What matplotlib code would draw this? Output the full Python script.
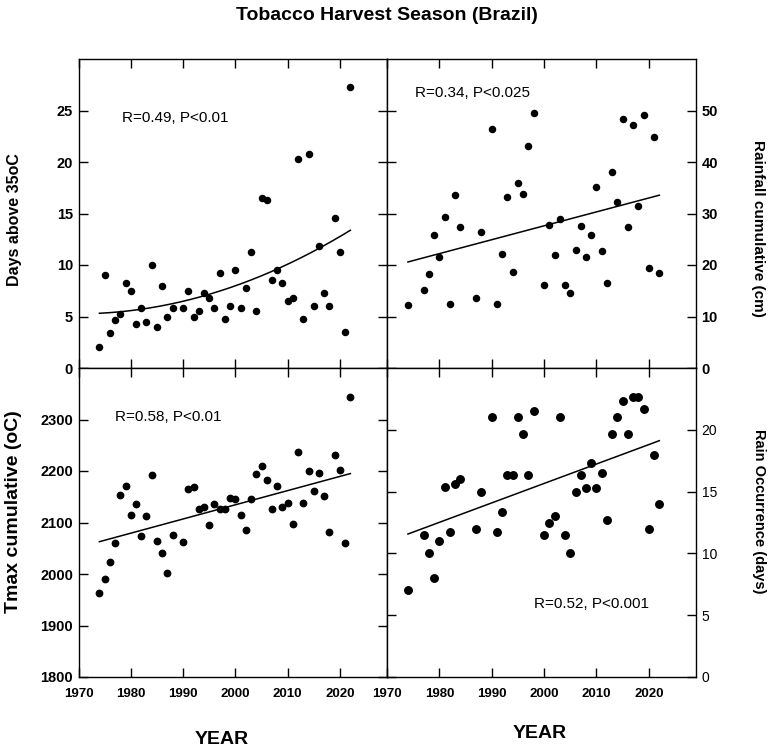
import numpy as np
import matplotlib
matplotlib.use('Agg')
import matplotlib.pyplot as plt
from matplotlib import font_manager

names = {f.name for f in font_manager.fontManager.ttflist}
NARROW = ['Liberation Sans Narrow', 'Liberation Sans'] if 'Liberation Sans Narrow' in names else ['Liberation Sans']
BASE = ['Liberation Sans', 'DejaVu Sans']
plt.rcParams['font.family'] = BASE

# ---------------- data ----------------
years_a = [1974, 1975, 1976, 1977, 1978, 1979, 1980, 1981, 1982, 1983, 1984, 1985,
           1986, 1987, 1988, 1990, 1991, 1992, 1993, 1994, 1995, 1996, 1997, 1998,
           1999, 2000, 2001, 2002, 2003, 2004, 2005, 2006, 2007, 2008, 2009, 2010,
           2011, 2012, 2013, 2014, 2015, 2016, 2017, 2018, 2019, 2020, 2021, 2022]
days_above_35 = [2.0, 9.0, 3.35, 4.7, 5.25, 8.25, 7.5, 4.25, 5.8, 4.5, 10.0, 4.0,
                 8.0, 5.0, 5.8, 5.8, 7.5, 5.0, 5.5, 7.25, 6.75, 5.8, 9.25, 4.75,
                 6.0, 9.5, 5.8, 7.75, 11.3, 5.5, 16.55, 16.3, 8.5, 9.5, 8.25, 6.5,
                 6.75, 20.3, 4.75, 20.8, 6.0, 11.8, 7.25, 6.0, 14.55, 11.3, 3.5, 27.3]
tmax_cum = [1963, 1990, 2022.6, 2060, 2154, 2171.6, 2114.8, 2136.8, 2074, 2113, 2193, 2064.5,
            2041, 2001, 2074.8, 2063, 2166, 2169.7, 2127, 2131, 2094.8, 2136, 2126.5, 2127,
            2148.4, 2145.8, 2115, 2085, 2146.5, 2195, 2209, 2183, 2127, 2171, 2129.7, 2138,
            2096.8, 2236, 2138.7, 2199.4, 2162, 2196.8, 2152, 2082, 2232, 2201, 2061, 2344.5]

years_b = [1974, 1977, 1978, 1979, 1980, 1981, 1982, 1983, 1984, 1987, 1988, 1990,
           1991, 1992, 1993, 1994, 1995, 1996, 1997, 1998, 2000, 2001, 2002, 2003,
           2004, 2005, 2006, 2007, 2008, 2009, 2010, 2011, 2012, 2013, 2014, 2015,
           2016, 2017, 2018, 2019, 2020, 2021, 2022]
rainfall_cum = [12.2, 15.2, 18.3, 25.8, 21.6, 29.3, 12.5, 33.5, 27.4, 13.5, 26.4, 46.5,
                12.4, 22.2, 33.2, 18.7, 35.9, 33.8, 43.2, 49.6, 16.1, 27.7, 21.9, 28.9,
                16.1, 14.6, 22.9, 27.6, 21.6, 25.8, 35.2, 22.7, 16.6, 38.0, 32.2, 48.4,
                27.4, 47.2, 31.4, 49.1, 19.4, 44.8, 18.4]
rain_occ = [7.0, 11.5, 10.0, 8.0, 11.0, 15.35, 11.7, 15.65, 16.0, 12.0, 15.0, 21.0,
            11.7, 13.35, 16.33, 16.33, 21.0, 19.67, 16.33, 21.5, 11.5, 12.5, 13.0, 21.0,
            11.5, 10.0, 15.0, 16.33, 15.33, 17.33, 15.33, 16.5, 12.67, 19.67, 21.0, 22.33,
            19.67, 22.67, 22.67, 21.67, 12.0, 18.0, 14.0]

xticks = [1970, 1980, 1990, 2000, 2010, 2020]
stats = ["R=0.49, P<0.01", "R=0.34, P<0.025", "R=0.58, P<0.01", "R=0.52, P<0.001"]

# ---------------- figure ----------------
W, H = 768, 748
fig = plt.figure(figsize=(W / 100, H / 100), dpi=100)

def px_axes(x0, y0, x1, y1):
    return fig.add_axes([x0 / W, 1 - y1 / H, (x1 - x0) / W, (y1 - y0) / H])

ax_tl = px_axes(78.5, 59, 387, 368)
ax_tr = px_axes(387, 59, 696, 368)
ax_bl = px_axes(78.5, 368, 387, 677)
ax_br = px_axes(387, 368, 696, 677)

def style(ax, ylim, yticks, side, bold_y=True, show_x=False, ysize=10.5):
    ax.set_xlim(1970, 2029)
    ax.set_ylim(*ylim)
    ax.set_xticks(xticks)
    ax.set_yticks(yticks)
    for s in ax.spines.values():
        s.set_linewidth(1.0)
    ax.tick_params(direction='in', length=6.5, width=1.0, top=True, right=True,
                   left=True, bottom=True)
    ax.tick_params(axis='y', labelleft=(side == 'left'), labelright=(side == 'right'),
                   labelsize=ysize, pad=4)
    ax.tick_params(axis='x', labelbottom=show_x, labelsize=9.5, pad=8)
    for lab in ax.get_yticklabels():
        lab.set_fontweight('bold' if bold_y else 'normal')
    for lab in ax.get_xticklabels():
        lab.set_fontweight('bold')

style(ax_tl, (0, 30), [0, 5, 10, 15, 20, 25], 'left')
style(ax_tr, (0, 60), [0, 10, 20, 30, 40, 50], 'right')
style(ax_bl, (1800, 2400), [1800, 1900, 2000, 2100, 2200, 2300], 'left', show_x=True)
style(ax_br, (0, 25), [0, 5, 10, 15, 20], 'right', bold_y=False, show_x=True, ysize=10)

xa = np.array(years_a, float)
xb = np.array(years_b, float)

# scatter
ax_tl.plot(xa, days_above_35, 'o', color='black', ms=4.4, mec='black')
ax_tr.plot(xb, rainfall_cum, 'o', color='black', ms=4.4, mec='black')
ax_bl.plot(xa, tmax_cum, 'o', color='black', ms=4.6, mec='black')
ax_br.plot(xb, rain_occ, 'o', color='black', ms=5.4, mec='black')

# fits
xs = np.linspace(1974, 2022, 200)
c = np.polyfit(xa - 1970, days_above_35, 2)
ax_tl.plot(xs, np.polyval(c, xs - 1970), color='black', lw=1.1)
for ax, x, y in [(ax_tr, xb, rainfall_cum), (ax_bl, xa, tmax_cum), (ax_br, xb, rain_occ)]:
    c = np.polyfit(x, y, 1)
    ax.plot(xs, np.polyval(c, xs), color='black', lw=1.1)

# stats text
ax_tl.text(1978.3, 24.3, stats[0], fontsize=11, ha='left', va='center')
ax_tr.text(1975.35, 53.4, stats[1], fontsize=11, ha='left', va='center')
ax_bl.text(1977.0, 2305, stats[2], fontsize=11, ha='left', va='center')
ax_br.text(1998.1, 5.9, stats[3], fontsize=11, ha='left', va='center')

# axis labels
fig.text(15 / W, 1 - 220 / H, "Days above 35oC", rotation=90, fontsize=11.5,
         fontweight='bold', ha='center', va='center')
fig.text(14 / W, 1 - 512 / H, "Tmax cumulative (oC)", rotation=90, fontsize=14,
         fontweight='bold', ha='center', va='center')
fig.text(758 / W, 1 - 228 / H, "Rainfall cumulative (cm)", rotation=-90, fontsize=11,
         fontweight='bold', ha='center', va='center')
fig.text(759 / W, 1 - 511 / H, "Rain Occurrence (days)", rotation=-90, fontsize=10.5,
         fontweight='bold', ha='center', va='center')
fig.text(222 / W, 1 - 739 / H, "YEAR", fontsize=14, fontweight='bold',
         ha='center', va='center', family=NARROW)
fig.text(540 / W, 1 - 734 / H, "YEAR", fontsize=14, fontweight='bold',
         ha='center', va='center', family=NARROW)
fig.text(387 / W, 1 - 16 / H, "Tobacco Harvest Season (Brazil)", fontsize=14,
         fontweight='bold', ha='center', va='center', family=NARROW)

fig.savefig('out.png', dpi=100, facecolor='white')
